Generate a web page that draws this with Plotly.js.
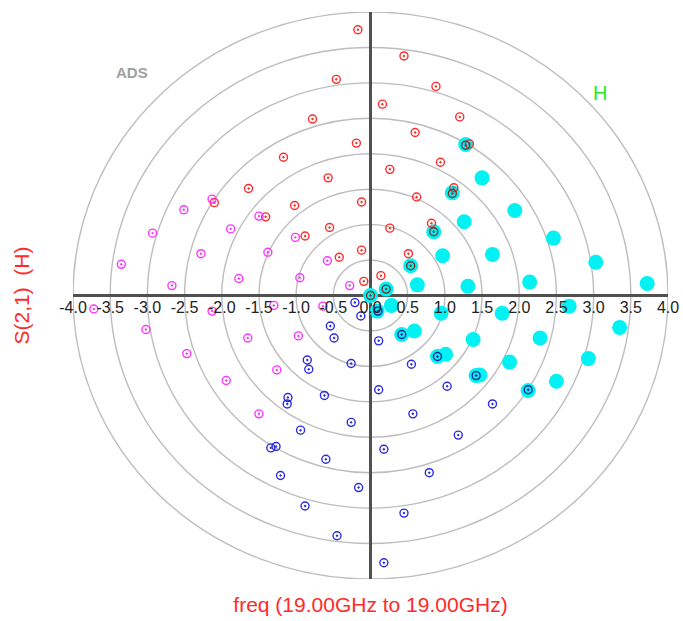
<!DOCTYPE html>
<html><head><meta charset="utf-8">
<script src="https://cdn.plot.ly/plotly-3.0.1.min.js"></script>
<style>html,body{margin:0;padding:0;background:#fff}#chart{width:683px;height:621px}</style>
</head><body><div id="chart"></div>
<script>
const tickValues = [-4,-3.5,-3,-2.5,-2,-1.5,-1,-0.5,0,0.5,1,1.5,2,2.5,3,3.5,4];
const tickLabels = ["-4.0","-3.5","-3.0","-2.5","-2.0","-1.5","-1.0","-0.5","0.0","0.5","1.0","1.5","2.0","2.5","3.0","3.5","4.0"];
const ringRadii = [0.5,1,1.5,2,2.5,3,3.5,4];

const redX = [-0.17,0.45,-0.46,0.88,0.16,-0.78,1.20,1.33,0.60,-0.19,-1.17,0.94,0.26,-0.57,1.12,-1.64,0.62,-0.12,-2.10,-1.02,-1.41,0.82,-0.55,0.26,-0.88,-0.12,0.51,-0.42,0.14,-0.09];
const redY = [3.75,3.38,3.05,2.95,2.70,2.49,2.52,2.14,2.30,2.15,1.95,1.88,1.78,1.66,1.52,1.51,1.39,1.32,1.31,1.27,1.11,1.02,0.96,0.95,0.84,0.64,0.59,0.54,0.28,0.20];

const darkRedX = [1.28,1.10,0.85,0.54,0.21,0.00];
const darkRedY = [2.12,1.44,0.90,0.42,0.09,0.00];

const magentaX = [-2.13,-1.50,-1.01,-0.58,-0.28,-2.51,-2.93,-3.35,-1.88,-2.28,-2.67,-1.38,-1.77,-0.95,-3.72,-2.13,-1.30,-0.64,-3.02,-1.65,-0.97,-2.47,-1.26,-1.94,-1.50];
const magentaY = [1.36,1.12,0.82,0.49,0.14,1.21,0.88,0.44,0.94,0.59,0.14,0.61,0.24,0.25,-0.19,-0.22,-0.14,-0.15,-0.48,-0.60,-0.57,-0.82,-1.05,-1.20,-1.67];

const blueX = [-0.21,-0.13,-0.54,-0.49,0.11,-0.26,-0.85,-0.83,0.11,-0.62,-1.11,-1.12,-0.26,-0.94,-1.34,-1.27,-0.60,-0.16,-1.21,-0.88,-0.45,0.18,0.45,0.79,1.18,1.64,0.57,1.03,0.55,0.18];
const blueY = [-0.10,-0.29,-0.43,-0.60,-0.64,-0.96,-0.91,-1.04,-1.33,-1.41,-1.44,-1.53,-1.79,-1.90,-2.15,-2.13,-2.31,-2.71,-2.54,-2.97,-3.39,-3.77,-3.07,-2.50,-1.97,-1.53,-1.67,-1.28,-0.97,-2.17];

const darkBlueX = [0.10,0.42,0.90,1.42,2.12];
const darkBlueY = [-0.22,-0.55,-0.86,-1.13,-1.33];

const cyanX = [1.28,1.50,1.10,1.94,1.26,0.85,2.46,1.64,0.97,0.54,3.03,2.14,1.31,0.63,3.72,0.21,0.00,2.67,0.28,0.95,1.77,3.35,0.09,0.59,0.42,1.38,2.28,2.93,1.01,0.90,1.87,1.47,1.42,2.50,2.12];
const cyanY = [2.13,1.66,1.45,1.20,1.04,0.90,0.81,0.58,0.56,0.42,0.47,0.19,0.13,0.15,0.17,0.09,0.00,-0.15,-0.14,-0.25,-0.25,-0.45,-0.22,-0.50,-0.55,-0.62,-0.60,-0.89,-0.83,-0.86,-0.94,-1.12,-1.13,-1.21,-1.34];

function openDot(x, y, color, name) {
  return {x: x, y: y, type: 'scatter', mode: 'markers', name: name,
    marker: {symbol: 'circle-open-dot', size: 8, color: color, line: {width: 1.4, color: color}}};
}

const traces = [
  {x: cyanX, y: cyanY, type: 'scatter', mode: 'markers', name: 'H',
   marker: {symbol: 'circle', size: 15, color: '#00f2f2'}},
  openDot(redX, redY, '#ff2a2a', 'red'),
  openDot(magentaX, magentaY, '#ff33ff', 'magenta'),
  openDot(blueX, blueY, '#2b2be0', 'blue'),
  openDot(darkRedX, darkRedY, '#7a3030', 'dark red'),
  openDot(darkBlueX, darkBlueY, '#10209a', 'dark blue')
];

const shapes = ringRadii.map(r => ({
  type: 'circle', xref: 'x', yref: 'y', x0: -r, y0: -r, x1: r, y1: r,
  line: {color: '#bdbdbd', width: 1.4}, layer: 'below'
}));

const layout = {
  width: 683, height: 621,
  margin: {l: 73, r: 15, t: 12, b: 42},
  paper_bgcolor: '#ffffff', plot_bgcolor: '#ffffff',
  showlegend: false, hovermode: false,
  font: {family: 'Liberation Sans, Arial, sans-serif'},
  xaxis: {range: [-4, 4], showgrid: false, showticklabels: false, ticks: '',
    zeroline: true, zerolinecolor: '#505050', zerolinewidth: 2.2, showline: false,
    title: {text: 'freq (19.00GHz to 19.00GHz)', font: {size: 21, color: '#ff2a2a'}, standoff: 18}},
  xaxis2: {overlaying: 'x', matches: 'x', anchor: 'free', position: 0.5, range: [-4, 4],
    tickmode: 'array', tickvals: tickValues, ticktext: tickLabels, ticks: '',
    showgrid: false, zeroline: false, showline: false,
    tickfont: {size: 16, color: '#222222'}},
  yaxis: {range: [-4, 4], showgrid: false, showticklabels: false, ticks: '',
    zeroline: true, zerolinecolor: '#505050', zerolinewidth: 2.2, showline: false,
    title: {text: 'S(2,1)\u00a0 (H)', font: {size: 21, color: '#ff2a2a'}, standoff: 36}},
  shapes: shapes,
  annotations: [
    {xref: 'paper', yref: 'paper', x: 0.099, y: 0.894, xanchor: 'center', yanchor: 'middle',
     text: '<b>ADS</b>', showarrow: false, font: {size: 15, color: '#a0a0a0'}},
    {xref: 'paper', yref: 'paper', x: 0.886, y: 0.857, xanchor: 'center', yanchor: 'middle',
     text: 'H', showarrow: false, font: {size: 20, color: '#22ee22'}}
  ]
};

// an invisible trace attached to xaxis2 so its tick labels render
traces.push({x: [0], y: [0], xaxis: 'x2', type: 'scatter', mode: 'markers',
  marker: {opacity: 0}, hoverinfo: 'skip'});

Plotly.newPlot('chart', traces, layout, {displayModeBar: false, staticPlot: true});
</script>
</body></html>
